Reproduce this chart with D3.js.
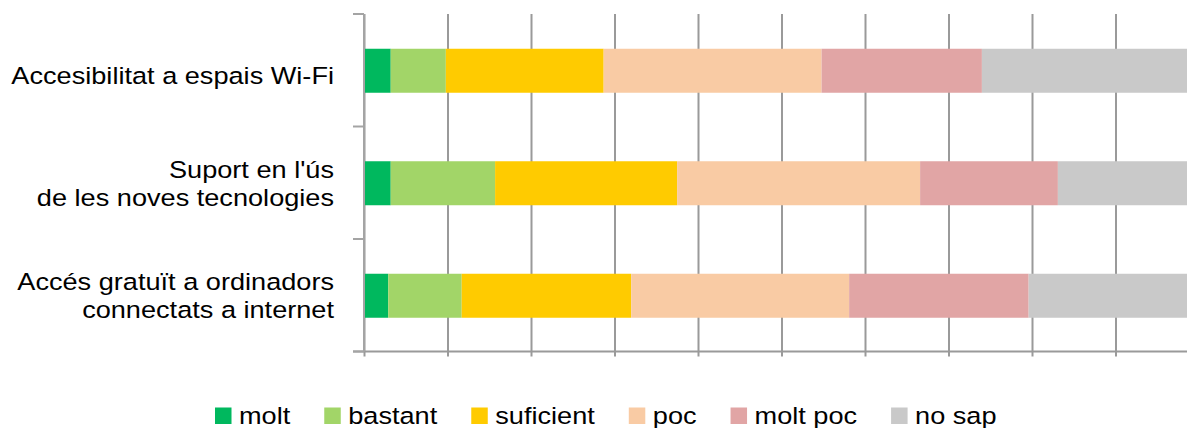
<!DOCTYPE html>
<html lang="ca">
<head>
    <meta charset="UTF-8">
    <title>Valoració de serveis TIC</title>
    <style>
        body { margin: 0; background: #fff; }
        text { font-family: "Liberation Sans", Arial, sans-serif; fill: #000; }
    </style>
    <script src="https://d3js.org/d3.v7.min.js"></script>
</head>
<body>
<div id="chart"></div>
<script>
    // categories (top to bottom), label lines
    var categories = ["wifi", "suport", "acces"];
    var categoryLabels = [
        ["Accesibilitat a espais Wi-Fi"],
        ["Suport en l'ús", "de les noves tecnologies"],
        ["Accés gratuït a ordinadors", "connectats a internet"]
    ];
    var seriesNames = ["molt", "bastant", "suficient", "poc", "molt poc", "no sap"];
    var seriesColors = ["#00b85e", "#a2d568", "#ffcb00", "#f9cba4", "#e1a5a5", "#c9c9c9"];

    // percentage per series, one value per category
    var molt      = [3.2, 3.2, 2.9];
    var bastant   = [6.6, 12.5, 8.8];
    var suficient = [18.9, 21.8, 20.3];
    var poc       = [26.1, 29.1, 26.1];
    var moltPoc   = [19.2, 16.5, 21.5];
    var noSap     = [26.0, 16.9, 20.4];

    var xTicks = d3.range(0, 101, 10);

    var width = 1187, height = 428;
    var margin = {left: 364, top: 14, bottom: 351.5};
    var textScale = 1.155;   // the source glyphs are a bit stretched horizontally

    var rows = categories.map(function(c, i) {
        return {cat: c, molt: molt[i], bastant: bastant[i], suficient: suficient[i],
            poc: poc[i], "molt poc": moltPoc[i], "no sap": noSap[i]};
    });
    var stacked = d3.stack().keys(seriesNames)(rows);

    var svg = d3.select("#chart").append("svg")
        .attr("width", width)
        .attr("height", height);

    var x = d3.scaleLinear().domain([0, 100]).range([margin.left, margin.left + 835]);
    var y = d3.scaleBand().domain(categories).range([margin.top, margin.bottom]);
    var color = d3.scaleOrdinal().domain(seriesNames).range(seriesColors);
    var barH = 44;

    // vertical gridlines
    svg.append("g")
        .attr("transform", "translate(0," + margin.bottom + ")")
        .call(d3.axisBottom(x).tickValues(xTicks).tickSizeInner(-(margin.bottom - margin.top)).tickSizeOuter(0).tickFormat(""))
        .call(function(g) {
            g.select(".domain").remove();
            g.selectAll(".tick line").attr("stroke", "#9a9a9a").attr("stroke-width", 2);
        });

    // small ticks under the x axis
    svg.append("g")
        .attr("transform", "translate(0," + margin.bottom + ")")
        .call(d3.axisBottom(x).tickValues(xTicks).tickSizeInner(5).tickSizeOuter(0).tickFormat(""))
        .call(function(g) {
            g.select(".domain").remove();
            g.selectAll(".tick line").attr("stroke", "#9a9a9a").attr("stroke-width", 2);
        });

    // bars
    svg.append("g").selectAll("g")
        .data(stacked)
        .join("g")
        .attr("fill", function(d) { return color(d.key); })
        .selectAll("rect")
        .data(function(d) { return d; })
        .join("rect")
        .attr("x", function(d) { return x(d[0]); })
        .attr("width", function(d) { return x(d[1]) - x(d[0]); })
        .attr("y", function(d) { return y(d.data.cat) + y.bandwidth() / 2 - barH / 2 + 0.5; })
        .attr("height", barH);

    // x axis baseline
    svg.append("line")
        .attr("x1", margin.left - 11).attr("x2", x(100))
        .attr("y1", margin.bottom).attr("y2", margin.bottom)
        .attr("stroke", "#9a9a9a").attr("stroke-width", 2);

    // y axis line and boundary ticks
    svg.append("line")
        .attr("x1", margin.left).attr("x2", margin.left)
        .attr("y1", margin.top).attr("y2", margin.bottom)
        .attr("stroke", "#a4a4a4").attr("stroke-width", 2);

    var bounds = categories.map(function(c) { return y(c); }).concat([y.range()[1]]);
    svg.append("g").selectAll("line")
        .data(bounds)
        .join("line")
        .attr("x1", margin.left - 11).attr("x2", margin.left)
        .attr("y1", function(d) { return d; }).attr("y2", function(d) { return d; })
        .attr("stroke", "#a4a4a4").attr("stroke-width", 2);

    // category labels
    var lineGap = 28.4;
    var labels = svg.append("g").selectAll("g")
        .data(categories)
        .join("g")
        .attr("transform", function(c) {
            return "translate(334," + (y(c) + y.bandwidth() / 2) + ") scale(" + textScale + ",1)";
        });
    labels.each(function(c, i) {
        var lines = categoryLabels[i];
        var n = lines.length;
        var base = n === 1 ? 13.5 : 9;
        d3.select(this).selectAll("text")
            .data(lines)
            .join("text")
            .attr("text-anchor", "end")
            .attr("font-size", "23.5px")
            .attr("y", function(d, j) { return base + (j - (n - 1) / 2) * lineGap; })
            .text(function(d) { return d; });
    });

    // legend
    var legend = svg.append("g").attr("transform", "translate(0,424)");
    var lx = 215;
    seriesNames.forEach(function(name) {
        var item = legend.append("g").attr("transform", "translate(" + lx + ",0)");
        item.append("rect")
            .attr("x", 0).attr("y", -16.5)
            .attr("width", 16.5).attr("height", 16.5)
            .attr("fill", color(name));
        var t = item.append("g")
            .attr("transform", "translate(24,0) scale(" + textScale + ",1)")
            .append("text")
            .attr("font-size", "23.5px")
            .text(name);
        var w = t.node().getComputedTextLength() * textScale;
        lx += 24 + w + 34;
    });
</script>
</body>
</html>
